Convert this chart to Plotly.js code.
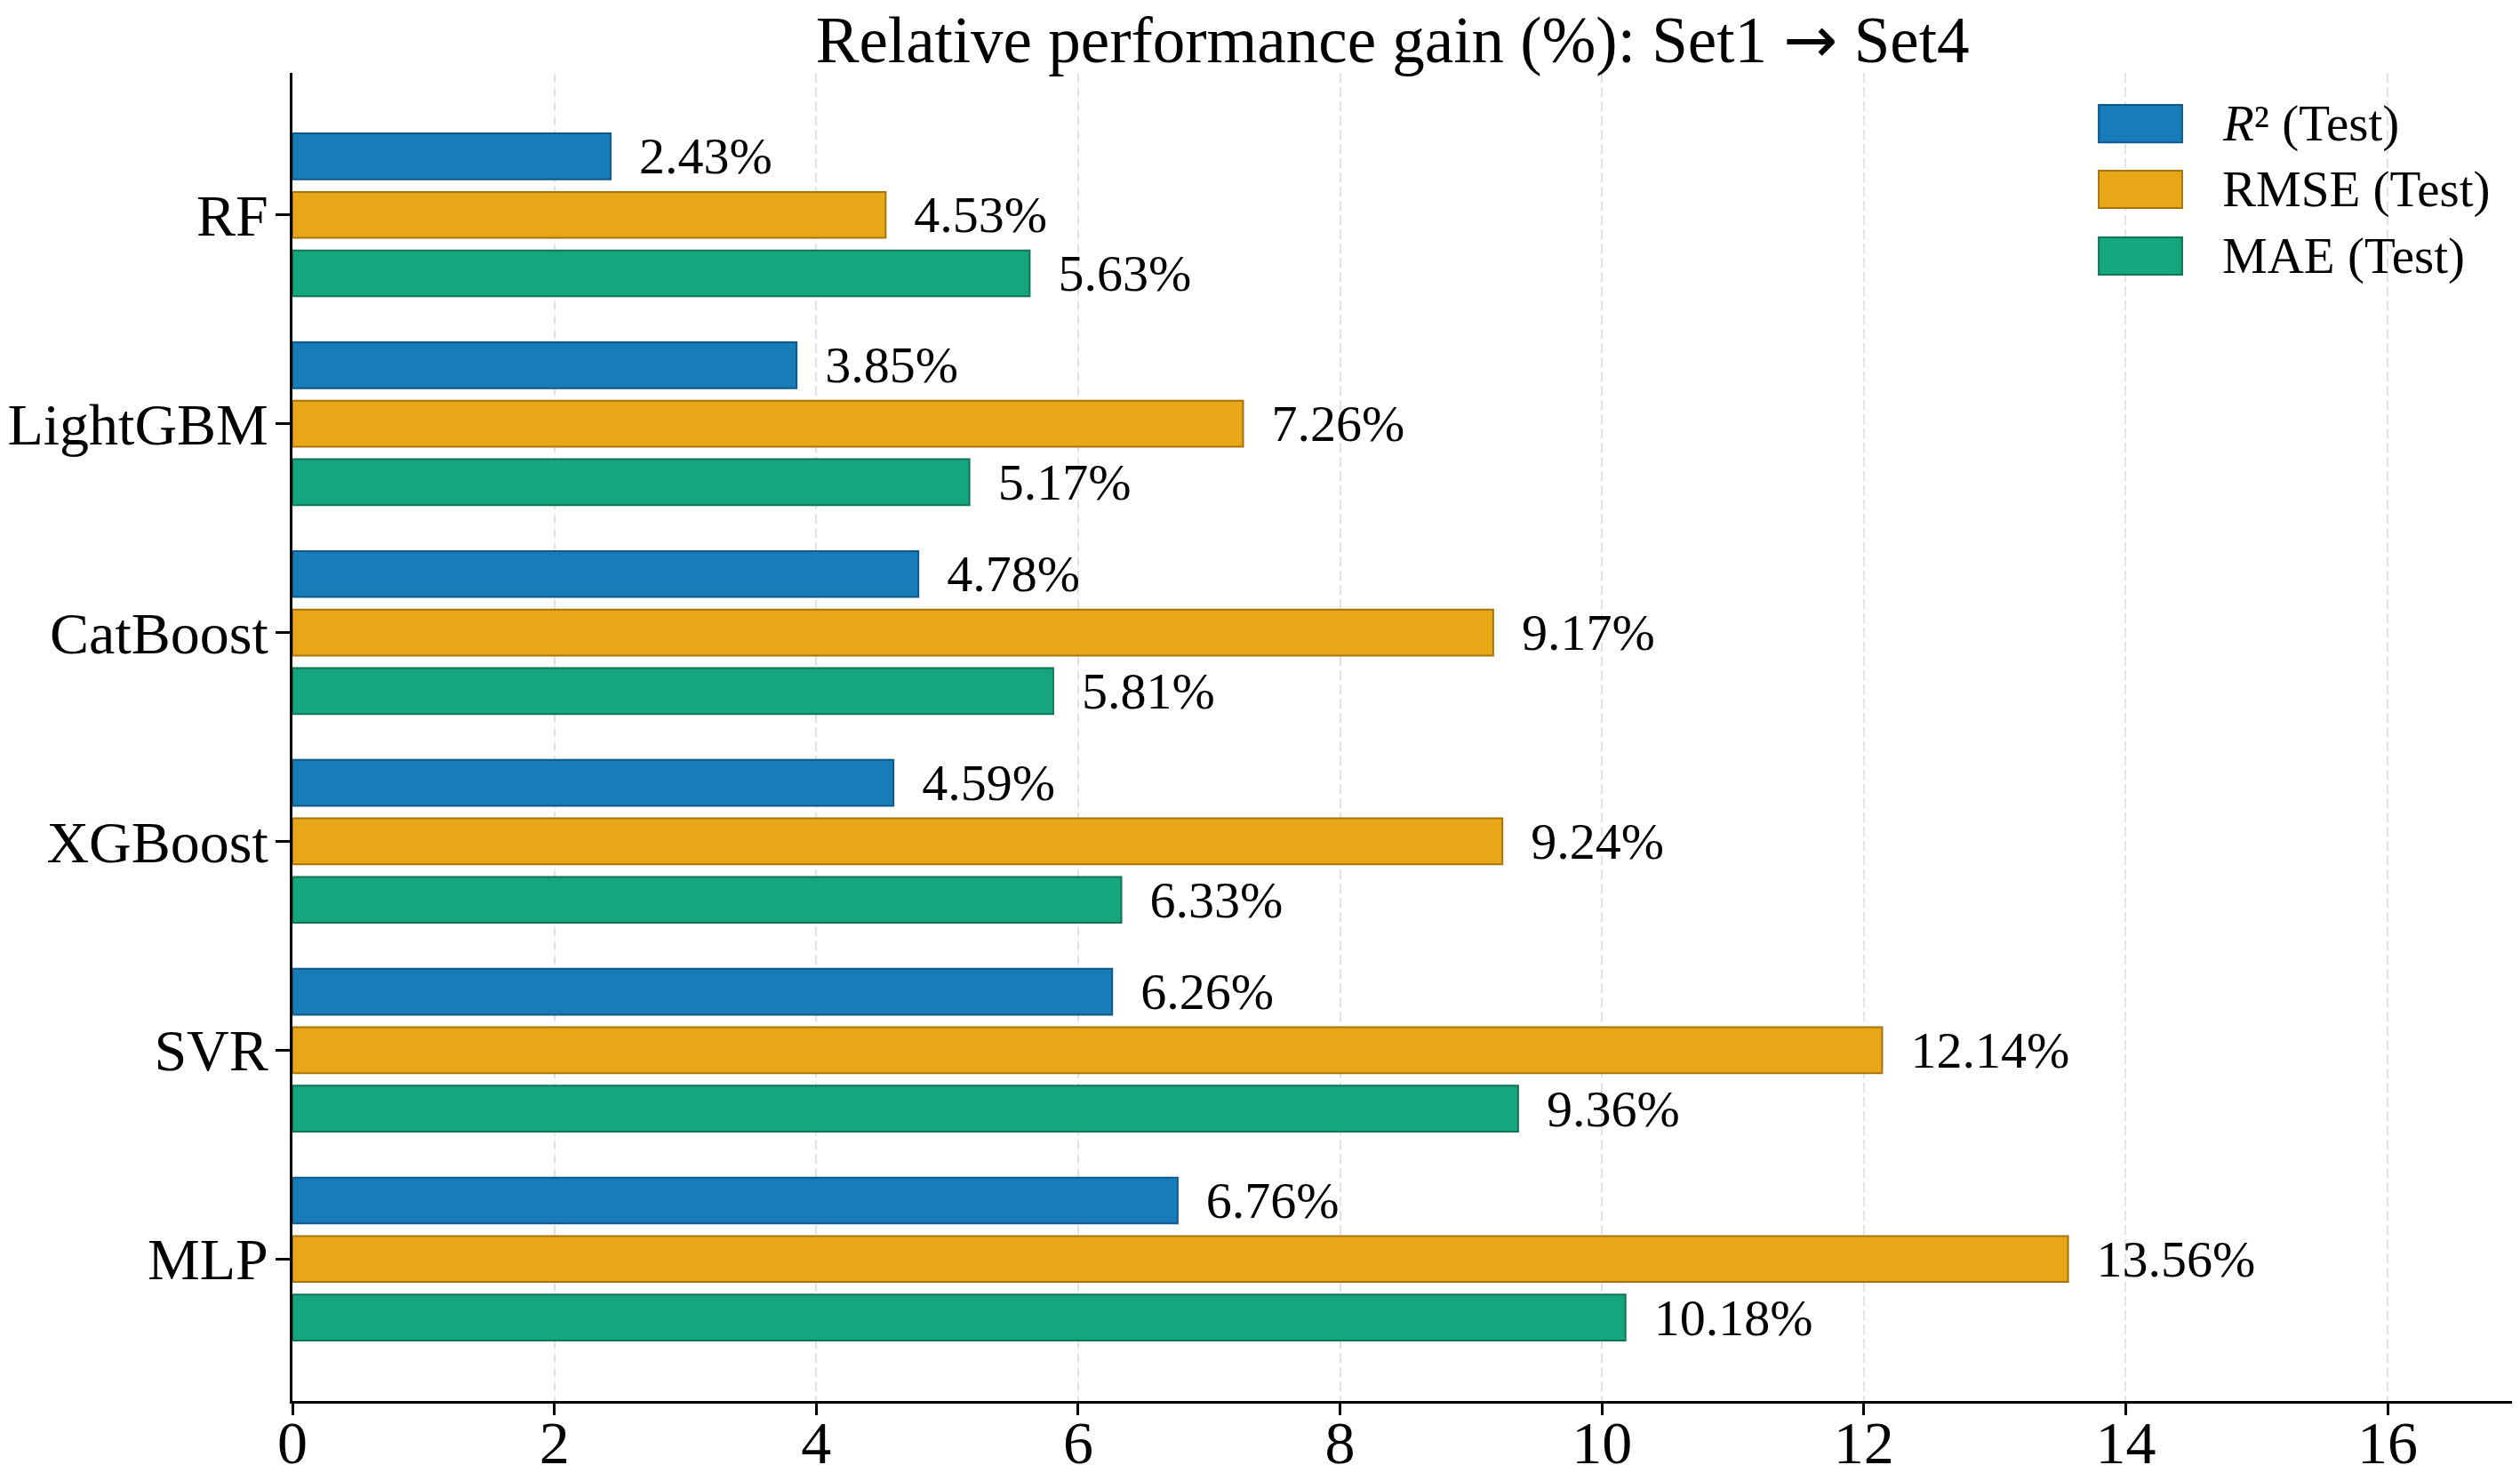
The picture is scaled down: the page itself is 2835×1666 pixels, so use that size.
<!DOCTYPE html>
<html>
<head>
<meta charset="utf-8">
<script src="https://cdn.plot.ly/plotly-3.0.1.min.js"></script>
<style>
  html, body { margin: 0; padding: 0; background: #ffffff; }
  #chart { width: 2835px; height: 1666px; }
</style>
</head>
<body>
<div id="chart"></div>
<script>
// ---- data ----
const models = ['RF', 'LightGBM', 'CatBoost', 'XGBoost', 'SVR', 'MLP'];
const r2Gain = [2.43, 3.85, 4.78, 4.59, 6.26, 6.76];
const rmseGain = [4.53, 7.26, 9.17, 9.24, 12.14, 13.56];
const maeGain = [5.63, 5.17, 5.81, 6.33, 9.36, 10.18];
const seriesNames = ['<i>R</i>² (Test)', 'RMSE (Test)', 'MAE (Test)'];
const xTickVals = [0, 2, 4, 6, 8, 10, 12, 14, 16];
const titleText = 'Relative performance gain (%): Set1 <span style="font-family:\'DejaVu Sans\'">→</span> Set4';

// ---- styles ----
const FONT = '"Liberation Serif", "Times New Roman", Times, serif';
const fills = ['#177cb7', '#e8a716', '#16a67d'];
const edges = ['#0f5a8a', '#a8730c', '#0f7458'];
const seriesValues = [r2Gain, rmseGain, maeGain];

const traces = seriesValues.map((vals, i) => ({
  type: 'bar',
  orientation: 'h',
  name: seriesNames[i],
  x: vals,
  y: models,
  marker: { color: fills[i], line: { color: edges[i], width: 2 } },
  texttemplate: '\u2002%{x:.2f}%',
  textposition: 'outside',
  constraintext: 'none',
  cliponaxis: false,
  textfont: { family: FONT, size: 58, color: '#000000' },
  showlegend: false,
  hoverinfo: 'x+y+name'
}));

// manual legend (swatches + labels), paper coordinates
const legRows = [0.9618, 0.9123, 0.8621];
const shapes = legRows.map((yc, i) => ({
  type: 'rect', xref: 'paper', yref: 'paper',
  x0: 0.8138, x1: 0.8514, y0: yc - 0.0141, y1: yc + 0.0141,
  fillcolor: fills[i], line: { color: edges[i], width: 2 }
}));
const annotations = legRows.map((yc, i) => ({
  xref: 'paper', yref: 'paper', x: 0.8685, y: yc,
  xanchor: 'left', yanchor: 'middle', showarrow: false,
  text: seriesNames[i],
  font: { family: FONT, size: 57, color: '#000000' }
}));

const layout = {
  width: 2835,
  height: 1666,
  margin: { l: 329, r: 9, t: 82, b: 90, pad: 0 },
  paper_bgcolor: '#ffffff',
  plot_bgcolor: '#ffffff',
  font: { family: FONT, color: '#000000' },
  barmode: 'group',
  bargap: 0.16,
  bargroupgap: 0.214,
  title: {
    text: titleText,
    font: { family: FONT, size: 73, color: '#000000' },
    x: 0.5526, xanchor: 'center',
    xref: 'container',
    yref: 'container', y: 1 - 44 / 1666, yanchor: 'middle'
  },
  xaxis: {
    range: [0, 16.95],
    tickvals: xTickVals,
    ticktext: xTickVals.map(String),
    ticks: 'outside', ticklen: 13, tickwidth: 3, tickcolor: '#000000',
    ticklabelstandoff: -28,
    showline: true, linecolor: '#000000', linewidth: 3,
    showgrid: true, gridcolor: '#e3e3e3', gridwidth: 2, griddash: '11px,5px',
    zeroline: false,
    tickfont: { family: FONT, size: 68, color: '#000000' },
    fixedrange: true
  },
  yaxis: {
    type: 'category',
    categoryorder: 'array',
    categoryarray: models,
    range: [5.68, -0.68],
    ticks: 'outside', ticklen: 16, tickwidth: 3, tickcolor: '#000000',
    ticklabelstandoff: -5,
    showline: true, linecolor: '#000000', linewidth: 3,
    showgrid: false, zeroline: false,
    tickfont: { family: FONT, size: 66, color: '#000000' },
    fixedrange: true
  },
  shapes: shapes,
  annotations: annotations,
  showlegend: false
};

Plotly.newPlot('chart', traces, layout, { displayModeBar: false, staticPlot: true });
</script>
</body>
</html>
